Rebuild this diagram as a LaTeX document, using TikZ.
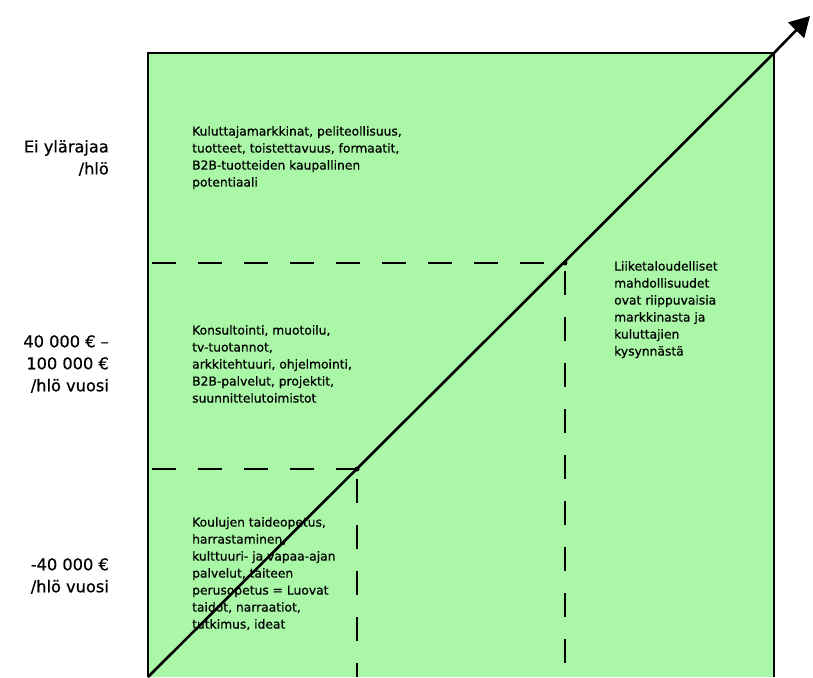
\documentclass[tikz,border=0pt]{standalone}
\usepackage{fontspec}
\setmainfont{DejaVu Sans}[FakeBold=0.7]
\usetikzlibrary{arrows.meta}
\definecolor{boxgreen}{RGB}{170,247,168}
\begin{document}
\begin{tikzpicture}[x=1pt,y=-1pt,
  axislabel/.style={anchor=east,align=right,font=\fontsize{16.2}{22}\selectfont,inner sep=0pt},
  cell/.style={anchor=north west,align=left,font=\fontsize{12.3}{17}\selectfont,inner sep=0pt},
  dashline/.style={line width=2.4pt,dash pattern=on 24pt off 22pt},
  frame/.style={line width=2pt}]
\useasboundingbox (0,0) rectangle (813,677);
\fill[boxgreen] (148,53) rectangle (774,677);
\draw[frame] (148,677) -- (148,53) -- (774,53) -- (774,677);
% corner coordinates
\coordinate (bl) at (148,677);
\coordinate (tr) at (774,53);
\coordinate (tip) at (810,16);
\coordinate (p1) at (357,469);
\coordinate (p2) at (565,263);
\coordinate (l1) at (148,469);
\coordinate (l2) at (148,263);
\coordinate (b1) at (357,677);
\coordinate (b2) at (565,677);
% dashed lines
\draw[dashline,dash phase=-4pt] (l2) -- (p2);
\draw[dashline,dash phase=-4pt] (l1) -- (p1);
\draw[dashline,dash phase=-10pt] (p1) -- (b1);
\draw[dashline,dash phase=-8pt] (p2) -- (b2);
\fill (p1) circle (2.5pt);
\fill (p2) circle (2.5pt);
% diagonal
\draw[line width=2.6pt,-{Triangle[length=20pt,width=22pt]}] (bl) -- (tr) -- (tip);
% axis labels
\node[axislabel] (a1) at (109,158) {Ei ylärajaa\\/hlö};
\node[axislabel] (a2) at (109,364) {40 000 € –\\100 000 €\\/hlö vuosi};
\node[axislabel] (a3) at (109,576) {-40 000 €\\/hlö vuosi};
% cell texts
\node[cell] (c1) at (192,126) {Kuluttajamarkkinat, peliteollisuus,\\tuotteet, toistettavuus, formaatit,\\B2B-tuotteiden kaupallinen\\potentiaali};
\node[cell] (c2) at (192,325) {Konsultointi, muotoilu,\\tv-tuotannot,\\arkkitehtuuri, ohjelmointi,\\B2B-palvelut, projektit,\\suunnittelutoimistot};
\node[cell] (c3) at (192,517) {Koulujen taideopetus,\\harrastaminen,\\kulttuuri- ja vapaa-ajan\\palvelut, taiteen\\perusopetus = Luovat\\taidot, narraatiot,\\tutkimus, ideat};
\node[cell] (c4) at (614,261) {Liiketaloudelliset\\mahdollisuudet\\ovat riippuvaisia\\markkinasta ja\\kuluttajien\\kysynnästä};
\end{tikzpicture}
\end{document}
